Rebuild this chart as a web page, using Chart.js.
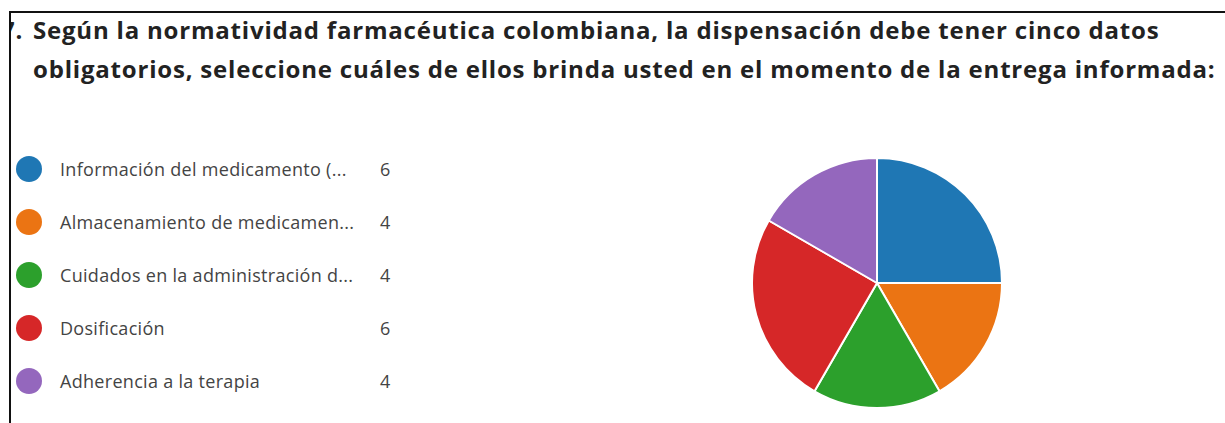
<!DOCTYPE html>
<html lang="es">
<head>
    <meta charset="UTF-8">
    <title>Dispensación - datos obligatorios</title>
    <script src="https://cdn.jsdelivr.net/npm/chart.js"></script>
</head>
<style>
    body{
        margin: 0;
        width: 1225px;
        height: 423px;
        background: #fff;
        overflow: hidden;
        position: relative;
        font-family: "Open Sans", "Noto Sans", sans-serif;
    }
    #frame{
        position: absolute;
        left: 9px;
        top: 11px;
        width: 1300px;
        height: 500px;
        border-top: 2px solid #111;
        border-left: 2px solid #111;
        overflow: hidden;
    }
    #title{
        position: absolute;
        left: 22px;
        top: -3px;
        margin: 0;
        font-size: 24px;
        letter-spacing: 0.8px;
        font-weight: bold;
        color: #222;
        line-height: 39px;
        white-space: nowrap;
    }
    #title .num{
        position: absolute;
        left: -32px;
    }
    #legend{
        position: absolute;
        left: 16px;
        top: 156px;
        font-size: 18px;
        letter-spacing: 0.3px;
        color: #444;
    }
    .item{
        position: relative;
        height: 53px;
        width: 380px;
    }
    .dot{
        position: absolute;
        left: 0;
        top: 0;
        width: 26px;
        height: 26px;
        border-radius: 50%;
    }
    .lbl{
        position: absolute;
        left: 44px;
        top: 0;
        line-height: 26px;
        white-space: nowrap;
    }
    .val{
        position: absolute;
        left: 364px;
        top: 0;
        line-height: 26px;
    }
    #pieBox{
        position: absolute;
        left: 751px;
        top: 157px;
        width: 252px;
        height: 252px;
    }
</style>
<body>
    <div id="frame">
        <div id="title"><span class="num">7.</span>Según la normatividad farmacéutica colombiana, la dispensación debe tener cinco datos<br>obligatorios, seleccione cuáles de ellos brinda usted en el momento de la entrega informada:</div>
    </div>
    <div id="legend"></div>
    <div id="pieBox"><canvas id="pieChart"></canvas></div>

    <script>
        const categories = [
            'Información del medicamento (...',
            'Almacenamiento de medicamen...',
            'Cuidados en la administración d...',
            'Dosificación',
            'Adherencia a la terapia'
        ];
        const responses = [6, 4, 4, 6, 4];
        const colors = ['#1f77b4', '#eb7413', '#2ca02c', '#d62728', '#9467bd'];

        // legend list on the left
        const legend = document.getElementById('legend');
        categories.forEach((cat, i) => {
            const row = document.createElement('div');
            row.className = 'item';
            row.innerHTML = '<span class="dot" style="background:' + colors[i] + '"></span>' +
                '<span class="lbl">' + cat + '</span>' +
                '<span class="val">' + responses[i] + '</span>';
            legend.appendChild(row);
        });

        const ctx = document.getElementById('pieChart').getContext('2d');
        const chart = new Chart(ctx, {
            type: 'pie',
            data: {
                labels: categories,
                datasets: [{
                    data: responses,
                    backgroundColor: colors,
                    borderColor: '#ffffff',
                    borderWidth: 2
                }]
            },
            options: {
                maintainAspectRatio: false,
                responsive: true,
                animation: false,
                layout: { padding: 0 },
                plugins: {
                    legend: { display: false },
                    tooltip: { enabled: false }
                }
            }
        });
    </script>
</body>
</html>
